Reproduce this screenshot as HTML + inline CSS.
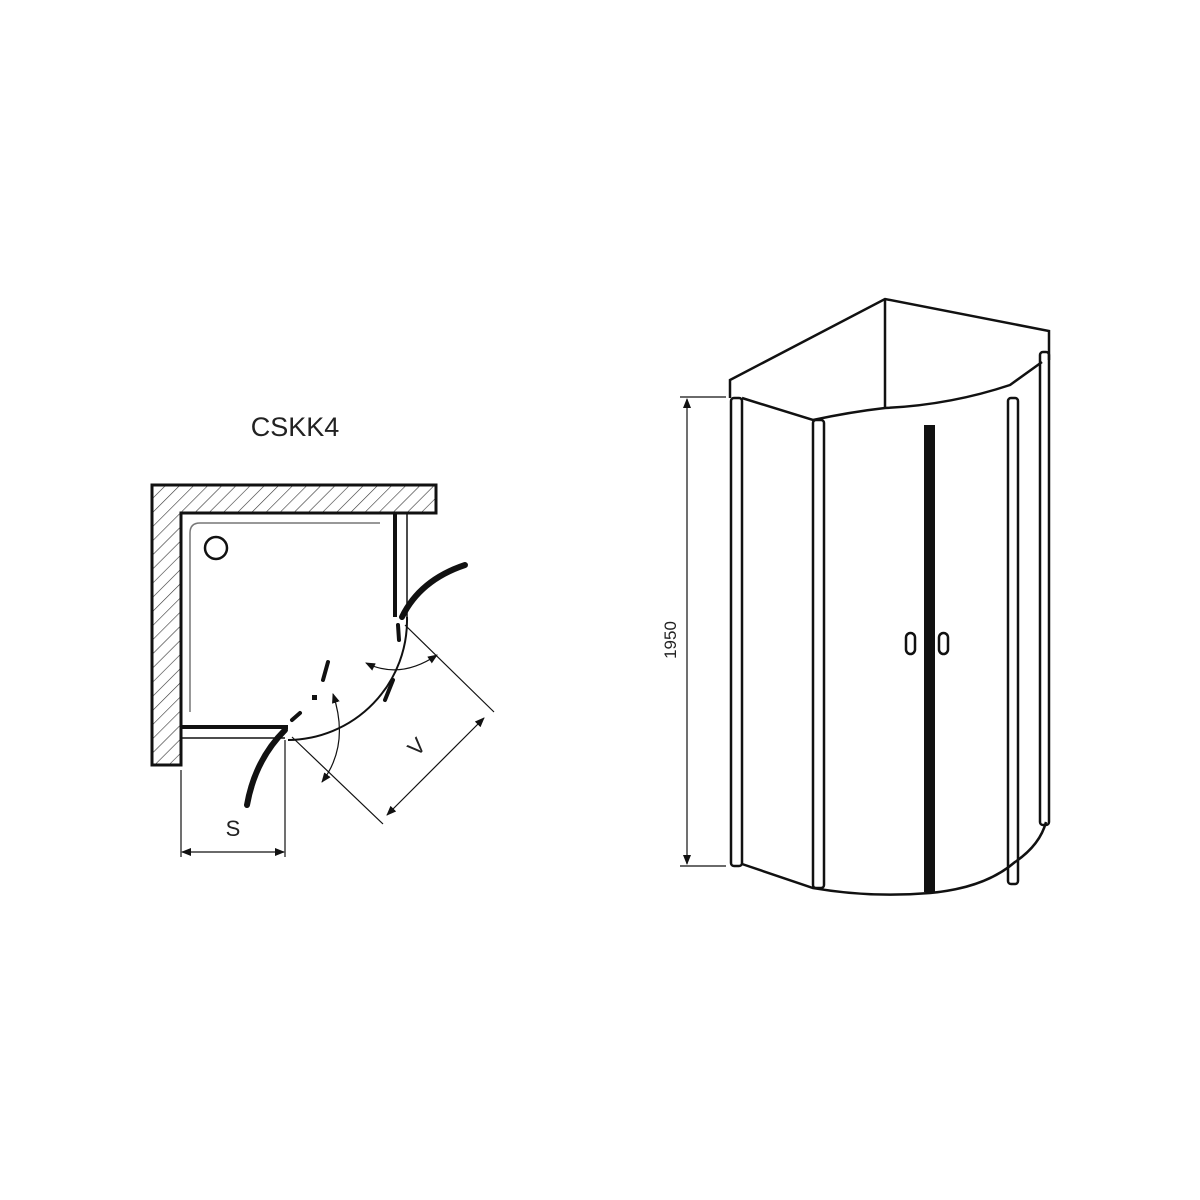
<!DOCTYPE html>
<html><head><style>body{margin:0;background:#fff}svg{display:block}</style></head><body>
<svg width="1200" height="1200" viewBox="0 0 1200 1200" xmlns="http://www.w3.org/2000/svg" font-family="Liberation Sans, sans-serif">
<defs>
<pattern id="h" width="10" height="10" patternUnits="userSpaceOnUse" patternTransform="rotate(45)"><line x1="0" y1="0" x2="0" y2="10" stroke="#333" stroke-width="1.2"/></pattern>
<marker id="a" markerWidth="10" markerHeight="8" refX="9" refY="4" orient="auto-start-reverse" markerUnits="userSpaceOnUse"><path d="M0,0 L10,4 L0,8z" fill="#111"/></marker>
</defs>
<text x="295" y="436" font-size="27" text-anchor="middle" fill="#222">CSKK4</text>
<path d="M152,485 H436 V513 H181 V765 H152 Z" fill="url(#h)" stroke="#111" stroke-width="3"/>
<path d="M380,523 H200 Q190,523 190,533 V712" fill="none" stroke="#777" stroke-width="1.5"/>
<circle cx="216" cy="548" r="11" fill="none" stroke="#111" stroke-width="2.5"/>
<line x1="181" y1="727" x2="288" y2="727" stroke="#111" stroke-width="4"/>
<line x1="181" y1="738" x2="285" y2="738" stroke="#111" stroke-width="1.5"/>
<line x1="395" y1="512" x2="395" y2="617" stroke="#111" stroke-width="4"/>
<line x1="407" y1="512" x2="407" y2="617" stroke="#111" stroke-width="1.5"/>
<path d="M402,617 Q420,580 465,565" fill="none" stroke="#111" stroke-width="6" stroke-linecap="round"/>
<path d="M285,730 Q255,760 247,805" fill="none" stroke="#111" stroke-width="6" stroke-linecap="round"/>
<path d="M288,740 A120,120 0 0 0 407,617" fill="none" stroke="#111" stroke-width="2"/>
<path d="M300,713 L292,720 M328,662 L323,680 M398,625 L399,640 M393,680 L385,700" stroke="#111" stroke-width="4" stroke-linecap="round"/>
<rect x="312" y="695" width="5" height="5" fill="#111"/>
<path d="M366,663 Q400,680 437,655" fill="none" stroke="#111" stroke-width="1.2" marker-start="url(#a)" marker-end="url(#a)"/>
<path d="M333,694 Q350,745 322,782" fill="none" stroke="#111" stroke-width="1.2" marker-start="url(#a)" marker-end="url(#a)"/>
<line x1="292" y1="737" x2="383" y2="824" stroke="#111" stroke-width="1.2"/>
<line x1="405" y1="625" x2="494" y2="712" stroke="#111" stroke-width="1.2"/>
<line x1="387" y1="815" x2="484" y2="718" stroke="#111" stroke-width="1.2" marker-start="url(#a)" marker-end="url(#a)"/>
<text x="422" y="752" font-size="22" text-anchor="middle" fill="#222" transform="rotate(-45 422 752)">V</text>
<line x1="181" y1="770" x2="181" y2="857" stroke="#111" stroke-width="1.2"/>
<line x1="285" y1="740" x2="285" y2="857" stroke="#111" stroke-width="1.2"/>
<line x1="182" y1="852" x2="284" y2="852" stroke="#111" stroke-width="1.2" marker-start="url(#a)" marker-end="url(#a)"/>
<text x="233" y="836" font-size="22" text-anchor="middle" fill="#222">S</text>
<g fill="none" stroke="#111" stroke-width="2.5">
<path d="M730,398 V380 L885,299 L1049,331 V360"/>
<line x1="885" y1="299" x2="885" y2="408"/>
<path d="M742,398 L813,420 Q850,412 885,408 Q950,405 1010,385 L1042,362"/>
<path d="M742,864 L813,888 Q870,898 930,893 Q985,888 1015,862 Q1040,845 1046,822"/>
<rect x="731" y="398" width="11" height="468" rx="3"/>
<rect x="813" y="420" width="11" height="468" rx="3"/>
<rect x="1008" y="398" width="10" height="486" rx="3"/>
<rect x="1040" y="352" width="9" height="473" rx="3"/>
<rect x="906" y="633" width="9" height="21" rx="4.5"/>
<rect x="939" y="633" width="9" height="21" rx="4.5"/>
</g>
<rect x="924" y="425" width="11" height="467" fill="#111"/>
<line x1="680" y1="397" x2="726" y2="397" stroke="#111" stroke-width="1.2"/>
<line x1="680" y1="866" x2="726" y2="866" stroke="#111" stroke-width="1.2"/>
<line x1="687" y1="399" x2="687" y2="864" stroke="#111" stroke-width="1.2" marker-start="url(#a)" marker-end="url(#a)"/>
<text x="676" y="640" font-size="17" text-anchor="middle" fill="#222" transform="rotate(-90 676 640)">1950</text>
</svg>
</body></html>
